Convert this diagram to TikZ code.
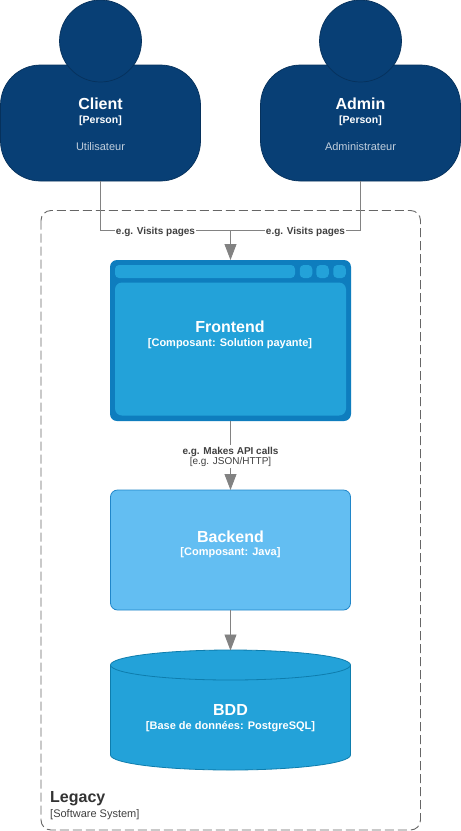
\documentclass[tikz,border=0pt]{standalone}
\usepackage{fontspec}
\setmainfont{Liberation Sans}
\usetikzlibrary{arrows.meta,positioning,calc}
\definecolor{persondark}{HTML}{083F75}
\definecolor{personline}{HTML}{06315C}
\definecolor{front}{HTML}{23A2D9}
\definecolor{frontdark}{HTML}{0E7DBE}
\definecolor{backfill}{HTML}{63BEF2}
\definecolor{backline}{HTML}{2086C9}
\definecolor{dbline}{HTML}{0E7DAD}
\definecolor{conn}{HTML}{828282}
\definecolor{lbl}{HTML}{404040}
\definecolor{legacy}{HTML}{333333}
\definecolor{dashcol}{HTML}{666666}
\tikzset{
  x=1pt,y=-1pt,
  box/.style={inner sep=0pt,outer sep=0pt,minimum width=#1},
  bodyshape/.style={draw=personline,fill=persondark,rounded corners=40pt,line width=.7pt,box=200pt,minimum height=116pt},
  headshape/.style={circle,draw=personline,fill=persondark,line width=.7pt,inner sep=0pt,outer sep=0pt,minimum size=82pt},
  title/.style={text=white,font=\fontsize{16}{18}\selectfont\bfseries,inner sep=0pt},
  tech/.style={text=white,font=\fontsize{11}{14}\selectfont\bfseries,inner sep=0pt},
  persontech/.style={text=white,font=\fontsize{10.5}{12}\selectfont\bfseries,inner sep=0pt},
  persontitle/.style={text=white,font=\fontsize{16}{18}\selectfont\bfseries,inner sep=0pt},
  descr/.style={text=white!75!persondark,font=\fontsize{11}{12}\selectfont,inner sep=0pt},
  edgelabel/.style={fill=white,text=lbl,font=\fontsize{10}{11}\selectfont\bfseries,inner sep=1pt,align=center},
  link/.style={draw=conn,line width=.9pt},
  arrowlink/.style={link,-{Triangle[length=16pt,width=12pt,fill=conn]}},
}
\begin{document}
\begin{tikzpicture}
\useasboundingbox (0,0) rectangle (461,831);
\fill[white] (0,0) rectangle (461,831);
% container
\draw[dashcol,line width=.9pt,dash pattern=on 9pt off 4pt,rounded corners=10pt] (41,210.5) rectangle (420.5,830);
\node[anchor=west,text=legacy,font=\fontsize{16}{18}\selectfont\bfseries,inner sep=0pt] (legacyname) at (50,799) {Legacy};
\node[anchor=west,text=lbl,font=\fontsize{11}{13}\selectfont,inner sep=0pt] (legacytype) at (50,815) {[Software System]};
% persons
\node[bodyshape] (client) at (100.5,123) {};
\node[headshape] (clienthead) at (100.5,41) {};
\node[persontitle] (clientname) at (100.5,103.5) {Client};
\node[persontech] (clienttype) at (100.5,120.5) {[Person]};
\node[descr] (clientdesc) at (100.5,146.5) {Utilisateur};
\node[bodyshape] (admin) at (360.5,123) {};
\node[headshape] (adminhead) at (360.5,41) {};
\node[persontitle] (adminname) at (360.5,103.5) {Admin};
\node[persontech] (admintype) at (360.5,120.5) {[Person]};
\node[descr] (admindesc) at (360.5,146.5) {Administrateur};
% frontend
\node[fill=frontdark,rounded corners=7pt,box=241pt,minimum height=161pt] (frontend) at (230.5,340.5) {};
\node[fill=front,rounded corners=4pt,box=180pt,minimum height=13pt] (bar) at (205,271.5) {};
\node[fill=front,rounded corners=4pt,box=12.5pt,minimum height=13pt] (btna) at (306,271.5) {};
\node[fill=front,rounded corners=4pt,box=12.5pt,minimum height=13pt] (btnb) at (322.5,271.5) {};
\node[fill=front,rounded corners=4pt,box=12.5pt,minimum height=13pt] (btnc) at (339.5,271.5) {};
\node[fill=front,rounded corners=7pt,box=231pt,minimum height=133pt] (frontinner) at (230.5,349) {};
\node[title] (frontname) at (230,327) {Frontend};
\node[tech] (fronttype) at (230,343.5) {[Composant: Solution payante]};
% backend
\node[draw=backline,fill=backfill,rounded corners=7pt,line width=.8pt,box=240pt,minimum height=120pt] (backend) at (230.5,550) {};
\node[title] (backname) at (230.5,537) {Backend};
\node[tech] (backtype) at (230.5,553) {[Composant: Java]};
% database
\coordinate (dbtop) at (230.5,650.5);
\path[draw=dbline,fill=front,line width=.8pt] (110.5,665) arc[start angle=180,end angle=0,x radius=120,y radius=-15] -- (350.5,755) arc[start angle=0,end angle=-180,x radius=120,y radius=-15] -- cycle;
\draw[dbline,line width=.8pt] (110.5,665) arc[start angle=180,end angle=360,x radius=120,y radius=-15];
\node[title] (dbname) at (230.5,710) {BDD};
\node[tech] (dbtype) at (230.5,727) {[Base de données: PostgreSQL]};
% connectors
\coordinate (merge) at (230.5,230.5);
\draw[link] (client.south) |- (merge);
\draw[link] (admin.south) |- (merge);
\draw[arrowlink] (merge) -- (frontend.north);
\draw[arrowlink] (frontend.south) -- (backend.north);
\draw[arrowlink] (backend.south) -- (dbtop);
% labels
\node[edgelabel] (la) at (155.5,231.5) {e.g. Visits pages};
\node[edgelabel] (lb) at (305.5,231.5) {e.g. Visits pages};
\node[edgelabel,inner sep=1.5pt] (lc) at (230.5,456.5) {e.g. Makes API calls\\[-1pt]{\mdseries\fontsize{10}{11}\selectfont [e.g. JSON/HTTP]}};
\end{tikzpicture}
\end{document}
